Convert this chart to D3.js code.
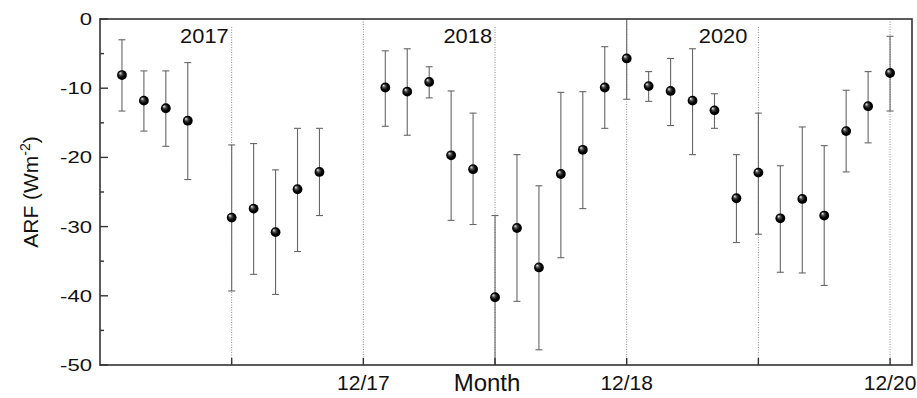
<!DOCTYPE html>
<html>
<head>
<meta charset="utf-8">
<script src="https://cdn.jsdelivr.net/npm/d3@7"></script>
<style>
  html, body { margin: 0; padding: 0; background: #fff; }
  svg { display: block; font-family: "Liberation Sans", Arial, sans-serif; }
</style>
</head>
<body>
<svg id="chart" width="917" height="398"></svg>
<script>
// ---- Data (month index: 0 = Jan 2017 ... 11 = Dec 2017, 12..23 = 2018, 24..35 = 2020) ----
const monthIndex = [0,1,2,3, 5,6,7,8,9,
                    12,13,14,15,16,17,18,19,20,21,22,23,
                    24,25,26,27,28,29,30,31,32,33,34,35];
const arf =       [-8.1,-11.8,-12.9,-14.7, -28.7,-27.4,-30.8,-24.6,-22.1,
                   -9.9,-10.5,-9.1,-19.7,-21.7,-40.2,-30.2,-35.9,-22.4,-18.9,-9.9,-5.7,
                   -9.7,-10.4,-11.8,-13.2,-25.9,-22.2,-28.8,-26.0,-28.4,-16.2,-12.6,-7.8];
const errTop =    [-3.0,-7.5,-7.5,-6.3, -18.2,-18.0,-21.8,-15.8,-15.8,
                   -4.6,-4.3,-6.9,-10.4,-13.6,-28.4,-19.6,-24.1,-10.6,-10.5,-4.0,0.8,
                   -7.6,-5.7,-4.3,-10.8,-19.6,-13.6,-21.2,-15.6,-18.3,-10.3,-7.6,-2.5];
const errBottom = [-13.3,-16.2,-18.4,-23.2, -39.3,-36.9,-39.8,-33.6,-28.4,
                   -15.5,-16.8,-11.4,-29.1,-29.7,-51,-40.8,-47.8,-34.5,-27.4,-15.8,-11.6,
                   -11.9,-15.4,-19.6,-15.8,-32.3,-31.1,-36.6,-36.7,-38.5,-22.1,-17.9,-13.3];
const yTicks = [0,-10,-20,-30,-40,-50];
const yMinorTicks = [-5,-15,-25,-35,-45];
const xTicks = [5,11,17,23,29,35];
const xTickLabels = ["", "12/17", "", "12/18", "", "12/20"];
const yearLabels = ["2017","2018","2020"];
const yearLineIndex = [5,17,29];

// ---- Layout ----
const svg = d3.select("#chart");
const L = 100, R = 912, T = 19, B = 365;
const x = d3.scaleLinear().domain([-1, 36]).range([L, R]);
const y = d3.scaleLinear().domain([-50, 0]).range([B, T]);

svg.append("defs").append("clipPath").attr("id","plotclip")
  .append("rect").attr("x",L).attr("y",T).attr("width",R-L).attr("height",B-T);

const grad = svg.select("defs").append("radialGradient")
  .attr("id","ball").attr("cx","0.5").attr("cy","0.5").attr("r","0.5")
  .attr("fx","0.3").attr("fy","0.28");
grad.append("stop").attr("offset","0").attr("stop-color","#f4f4f4");
grad.append("stop").attr("offset","0.35").attr("stop-color","#444");
grad.append("stop").attr("offset","0.7").attr("stop-color","#000");
grad.append("stop").attr("offset","1").attr("stop-color","#000");

// vertical dotted separators
const plot = svg.append("g").attr("clip-path","url(#plotclip)");
plot.selectAll("line.sep").data(xTicks).enter().append("line")
  .attr("class","sep")
  .attr("x1", d => x(d)).attr("x2", d => x(d))
  .attr("y1", (d,i) => (i % 2 === 0) ? T + 8 : T).attr("y2", B)
  .attr("stroke","#8a8a8a").attr("stroke-width",1)
  .attr("stroke-dasharray","1,1.5");

// error bars
const data = monthIndex.map((m,i) => ({m, v: arf[i], hi: errTop[i], lo: errBottom[i]}));
const eb = plot.append("g").attr("stroke","#666").attr("stroke-width",1.1);
eb.selectAll("line.stem").data(data).enter().append("line")
  .attr("x1", d => x(d.m)).attr("x2", d => x(d.m))
  .attr("y1", d => y(d.hi)).attr("y2", d => y(d.lo));
eb.selectAll("line.capt").data(data.filter(d => d.hi < 0)).enter().append("line")
  .attr("x1", d => x(d.m) - 3.5).attr("x2", d => x(d.m) + 3.5)
  .attr("y1", d => y(d.hi)).attr("y2", d => y(d.hi));
eb.selectAll("line.capb").data(data.filter(d => d.lo > -50)).enter().append("line")
  .attr("x1", d => x(d.m) - 3.5).attr("x2", d => x(d.m) + 3.5)
  .attr("y1", d => y(d.lo)).attr("y2", d => y(d.lo));

// markers
plot.selectAll("circle.pt").data(data).enter().append("circle")
  .attr("cx", d => x(d.m)).attr("cy", d => y(d.v)).attr("r", 4.9)
  .attr("fill","url(#ball)");

// axes frame
const frame = svg.append("g").attr("stroke","#333").attr("stroke-width",1.6).attr("fill","none");
frame.append("rect").attr("x",L).attr("y",T).attr("width",R-L).attr("height",B-T);

// ticks (inward)
const ax = svg.append("g").attr("stroke","#333").attr("stroke-width",1.4);
ax.selectAll("line.ymaj").data(yTicks).enter().append("line")
  .attr("x1",L).attr("x2",L+8).attr("y1",d=>y(d)).attr("y2",d=>y(d));
ax.selectAll("line.ymin").data(yMinorTicks).enter().append("line")
  .attr("x1",L).attr("x2",L+4).attr("y1",d=>y(d)).attr("y2",d=>y(d));
ax.selectAll("line.xmaj").data(xTicks).enter().append("line")
  .attr("x1",d=>x(d)).attr("x2",d=>x(d)).attr("y1",B).attr("y2",B-7);

// y tick labels (slightly wide glyphs)
svg.selectAll("text.ylab").data(yTicks).enter().append("text")
  .attr("transform", d => `translate(92,${y(d) + 6}) scale(1.3,1)`)
  .attr("text-anchor","end")
  .attr("font-size",17).attr("fill","#111")
  .text(d => d);

// x tick labels
svg.selectAll("text.xlab").data(xTicks).enter().append("text")
  .attr("x", d => x(d)).attr("y", 390)
  .attr("text-anchor","middle").attr("font-size",21).attr("fill","#111")
  .text((d,i) => xTickLabels[i]);

// year labels
const yearOffset = [-3, -3, -11];
svg.selectAll("text.year").data(yearLabels).enter().append("text")
  .attr("transform", (d,i) => `translate(${x(yearLineIndex[i]) + yearOffset[i]},43) scale(1.12,1)`)
  .attr("text-anchor","end").attr("font-size",19.5).attr("fill","#111")
  .text(d => d);

// axis titles
svg.append("text").attr("x", 487).attr("y", 391)
  .attr("text-anchor","middle").attr("font-size",24).attr("fill","#111")
  .text("Month");

const yt = svg.append("text")
  .attr("transform", `translate(38,${(T+B)/2}) rotate(-90)`)
  .attr("text-anchor","middle").attr("font-size",21).attr("fill","#111");
yt.append("tspan").text("ARF (Wm");
yt.append("tspan").attr("font-size",14).attr("dy",-8).text("-2");
yt.append("tspan").attr("dy",8).text(")");
</script>
</body>
</html>
